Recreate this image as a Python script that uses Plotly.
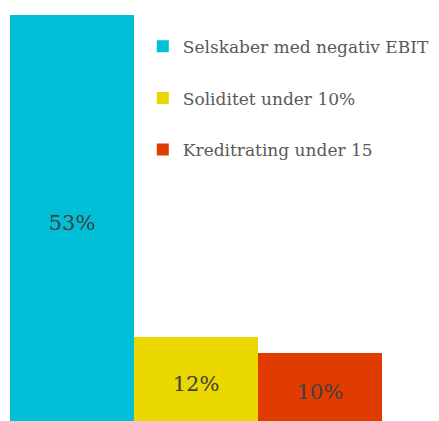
import plotly.graph_objects as go

categories = ["Selskaber med negativ EBIT", "Soliditet under 10%", "Kreditrating under 15"]
values = [53, 12, 10]
labels = ["53%", "12%", "10%"]
colors = ["#00BFD6", "#EAD700", "#E03C00"]

FONT = "DejaVu Serif"
fig = go.Figure()
for i, (c, v, l, col) in enumerate(zip(categories, values, labels, colors)):
    fig.add_trace(go.Bar(
        x=[i], y=[v], name=c, marker=dict(color=col, line=dict(width=0)),
        text=[l], textposition="inside", insidetextanchor="middle",
        textfont=dict(family=FONT, size=21, color="#404040"),
        legendgroup=c, width=1,
    ))

# page body has an 8px default margin, so the figure is sized/shifted to compensate
fig.update_layout(
    width=431, height=413,
    margin=dict(l=2, r=57, t=7, b=0, autoexpand=False),
    paper_bgcolor="white", plot_bgcolor="white",
    barmode="overlay", bargap=0,
    showlegend=True,
    legend=dict(x=0.357, y=0.966, xanchor="left", yanchor="top",
                font=dict(family=FONT, size=17, color="#595959"),
                itemwidth=30,
                tracegroupgap=26.5, bgcolor="rgba(0,0,0,0)"),
    xaxis=dict(visible=False, range=[-0.5, 2.5]),
    yaxis=dict(visible=False, range=[1.3, 53]),
    uniformtext=dict(mode="show", minsize=8),
)
fig.write_html("out.html")
